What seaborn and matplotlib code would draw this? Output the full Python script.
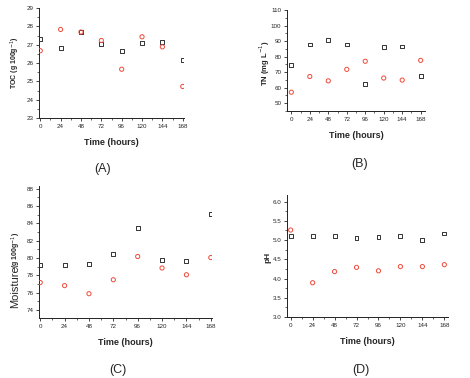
import numpy as np
import pandas as pd
import seaborn as sns
import matplotlib.pyplot as plt
from matplotlib.ticker import MultipleLocator

sns.set_style('white')
plt.rcParams['font.family'] = ['Liberation Sans', 'DejaVu Sans']

hours = [0, 24, 48, 72, 96, 120, 144, 168]

# (A) TOC
toc_black = [27.32, 26.84, 27.70, 27.02, 26.67, 27.07, 27.17, 26.16]
toc_red = [26.67, 27.83, 27.69, 27.23, 25.66, 27.43, 26.88, 24.72]
# (B) TN
tn_black = [74.8, 87.8, 90.6, 87.8, 62.1, 86.2, 86.5, 67.5]
tn_red = [57.1, 67.2, 64.4, 71.8, 77.0, 66.2, 64.9, 77.6]
# (C) Moisture
moist_black = [79.17, 79.17, 79.3, 80.45, 83.5, 79.75, 79.7, 85.05]
moist_red = [77.18, 76.83, 75.9, 77.5, 80.18, 78.86, 78.08, 80.06]
# (D) pH
ph_black = [5.10, 5.10, 5.10, 5.06, 5.07, 5.10, 5.01, 5.17]
ph_red = [5.26, 3.89, 4.18, 4.29, 4.20, 4.31, 4.31, 4.36]

red = '#ee4a3a'
black = '#333333'

fig = plt.figure(figsize=(4.7, 3.78), dpi=100)
W, H = 470, 378


def add_ax(left, top, right, bottom):
    return fig.add_axes([left / W, 1 - bottom / H, (right - left) / W, (bottom - top) / H])


panels = [
    # left, top, right, bottom, black, red, ylim, major, minor, xpad, letter pos, letter
    (39, 8, 184, 118, toc_black, toc_red, (23, 29), 1, 0.5, 1.5, (103, 169), '(A)'),
    (287, 10, 425, 111, tn_black, tn_red, (45, 110), 10, 5, 5.6, (360, 164), '(B)'),
    (39, 186, 212, 318, moist_black, moist_red, (73.1, 88.3), 2, 1, 1.2, (118, 370), '(C)'),
    (287, 195, 448, 317, ph_black, ph_red, (3.0, 6.17), 0.5, 0.25, 4, (361, 370), '(D)'),
]

axes = []
for (l, t, r, b, yb, yr, ylim, maj, mnr, xpad, lpos, letter) in panels:
    ax = add_ax(l, t, r, b)
    df = pd.DataFrame({'hours': hours, 'black': yb, 'red': yr})
    sns.scatterplot(data=df, x='hours', y='black', marker='s', s=8,
                    fc='none', ec=black, linewidth=0.7, ax=ax, zorder=3)
    sns.scatterplot(data=df, x='hours', y='red', marker='o', s=9,
                    fc='none', ec=red, linewidth=0.7, ax=ax, zorder=4)
    ax.set_xlim(-xpad, 168 + xpad)
    ax.set_ylim(*ylim)
    ax.set_xticks(hours)
    ax.xaxis.set_minor_locator(MultipleLocator(12))
    ax.yaxis.set_major_locator(MultipleLocator(maj))
    ax.yaxis.set_minor_locator(MultipleLocator(mnr))
    for s in ['top', 'right']:
        ax.spines[s].set_visible(False)
    for s in ['left', 'bottom']:
        ax.spines[s].set_linewidth(0.7)
        ax.spines[s].set_color('#222222')
    ax.tick_params(which='major', direction='out', length=2.5, width=0.6,
                   labelsize=4.5, pad=1.5, bottom=True, left=True)
    ax.tick_params(which='minor', direction='out', length=1.5, width=0.5,
                   bottom=True, left=True)
    ax.set_xlabel('Time (hours)', fontsize=6.5, fontweight='bold', labelpad=7)
    ax.set_ylabel('')
    fig.text(lpos[0] / W, 1 - lpos[1] / H, letter, fontsize=9,
             ha='center', va='center')
    axes.append(ax)

# decimal labels for pH
axes[3].yaxis.set_major_formatter(plt.FuncFormatter(lambda v, p: f'{v:.1f}'))

fig.text(15 / W, 1 - 63 / H, 'TOC (g 100g$^{-1}$)', rotation=90, fontsize=5,
         fontweight='bold', ha='center', va='center')
fig.text(265 / W, 1 - 63 / H, 'TN (mg L$^{-1}$)', rotation=90, fontsize=5.5,
         fontweight='bold', ha='center', va='center')
fig.text(15 / W, 1 - 287 / H, 'Moisture', rotation=90, fontsize=8,
         ha='center', va='center')
fig.text(16 / W, 1 - 250 / H, '(g 100g$^{-1}$)', rotation=90, fontsize=5,
         fontweight='bold', ha='center', va='center')
fig.text(268 / W, 1 - 257 / H, 'pH', rotation=90, fontsize=6,
         fontweight='bold', ha='center', va='center')

fig.savefig('out.png', dpi=100)
